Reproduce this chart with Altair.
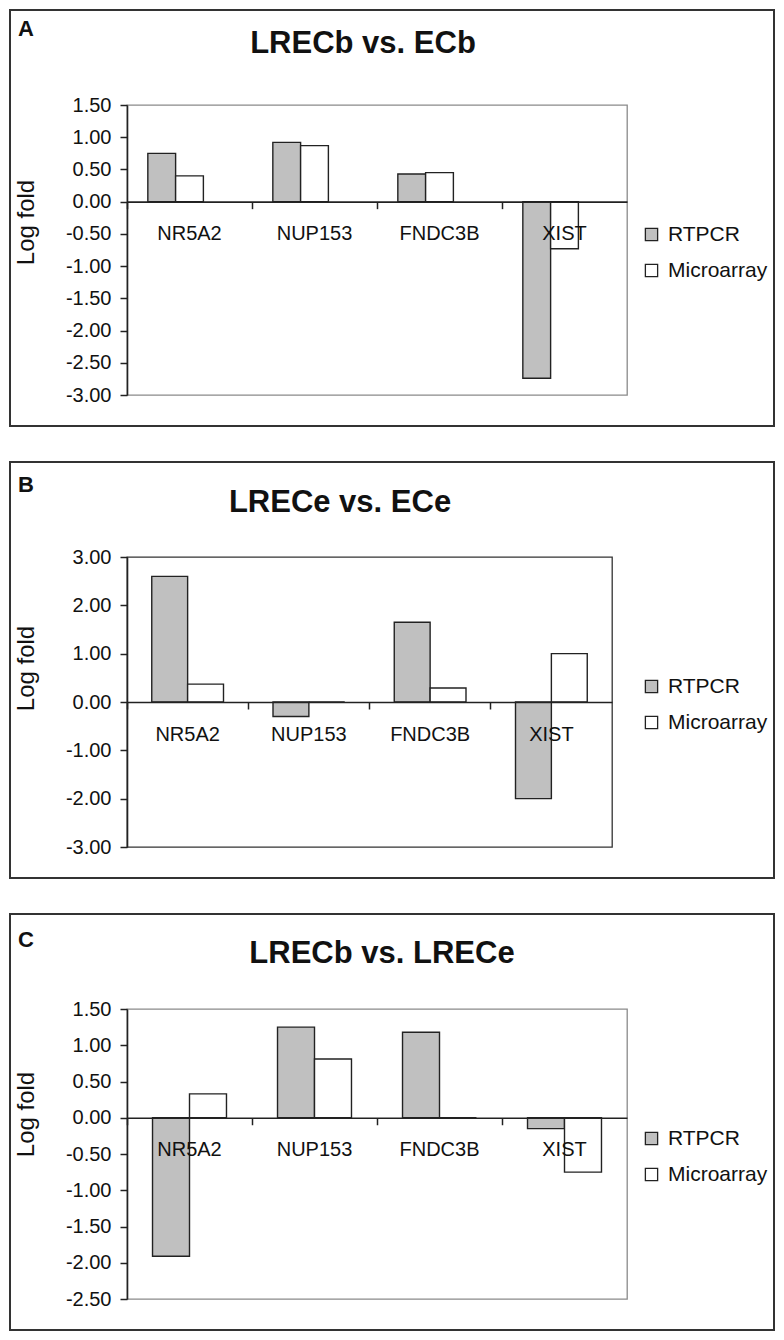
import altair as alt
import pandas as pd

# ---------------- data ----------------
genes = ["NR5A2", "NUP153", "FNDC3B", "XIST"]
series = ["RTPCR", "Microarray"]

a_rtpcr = [0.75, 0.92, 0.43, -2.74]
a_micro = [0.40, 0.87, 0.45, -0.73]
b_rtpcr = [2.60, -0.30, 1.65, -2.00]
b_micro = [0.37, 0.00, 0.29, 1.00]
c_rtpcr = [-1.91, 1.25, 1.18, -0.15]
c_micro = [0.33, 0.81, 0.00, -0.75]

titles = ["LRECb vs. ECb", "LRECe vs. ECe", "LRECb vs. LRECe"]
letters = ["A", "B", "C"]
a_ticks = [1.5, 1.0, 0.5, 0.0, -0.5, -1.0, -1.5, -2.0, -2.5, -3.0]
b_ticks = [3.0, 2.0, 1.0, 0.0, -1.0, -2.0, -3.0]
c_ticks = [1.5, 1.0, 0.5, 0.0, -0.5, -1.0, -1.5, -2.0, -2.5]

FONT = "Liberation Sans"
PLOT_H = 290


def panel(rt, mi, title, letter, yticks, width, offset_domain, pad_outer,
          view_stroke, title_x, title_y, letter_y, ytitle_y):
    rows = []
    for g, r, m in zip(genes, rt, mi):
        rows.append({"gene": g, "series": series[0], "value": r})
        rows.append({"gene": g, "series": series[1], "value": m})
    df = pd.DataFrame(rows)
    ymin, ymax = min(yticks), max(yticks)
    zero_from_top = (ymax - 0) / (ymax - ymin) * PLOT_H
    x_off = -(PLOT_H - zero_from_top)

    bars = alt.Chart(df).mark_bar(stroke="#222", strokeWidth=1.4).encode(
        x=alt.X("gene:N", sort=genes,
                scale=alt.Scale(domain=genes, paddingInner=0, paddingOuter=0),
                axis=alt.Axis(title=None, orient="bottom", offset=x_off,
                              labelAngle=0, bandPosition=0, tickSize=7,
                              labelPadding=15, labelFontSize=20, labelFont=FONT,
                              labelColor="#111", domainColor="#222",
                              domainWidth=1.6, tickColor="#222", tickWidth=1.5,
                              zindex=1)),
        xOffset=alt.XOffset("series:N",
                            scale=alt.Scale(domain=offset_domain, paddingInner=0,
                                            paddingOuter=pad_outer)),
        y=alt.Y("value:Q", stack=None,
                scale=alt.Scale(domain=[ymin, ymax], nice=False),
                axis=alt.Axis(title="Log fold", values=yticks,
                              labelExpr="(datum.value < 0 ? '-' : '') + format(abs(datum.value), '.2f')",
                              labelFontSize=20, labelFont=FONT, labelColor="#111",
                              labelPadding=9, tickSize=7, tickColor="#222",
                              tickWidth=1.5, domainColor="#222", domainWidth=1.6,
                              grid=False, titleFont=FONT, titleFontSize=24,
                              titleFontWeight="normal", titleColor="#111",
                              titleAngle=270, titleAlign="center",
                              titleBaseline="middle", titleX=-101, titleY=ytitle_y)),
        color=alt.Color("series:N",
                        scale=alt.Scale(domain=series, range=["#c0c0c0", "#ffffff"]),
                        legend=alt.Legend(title=None, orient="none", legendX=514,
                                          legendY=119, symbolType="square",
                                          symbolSize=150, symbolStrokeColor="#222",
                                          symbolStrokeWidth=1.3, labelFontSize=21,
                                          labelFont=FONT, labelColor="#111",
                                          rowPadding=14, labelOffset=6, padding=0)),
    )

    one = alt.Data(values=[{"t": title, "l": letter}])
    box = alt.Chart(one).mark_rect(filled=False, stroke="#333", strokeWidth=2).encode(
        x=alt.value(-117), x2=alt.value(647), y=alt.value(-95), y2=alt.value(321))
    ttl = alt.Chart(one).mark_text(font=FONT, fontSize=31, fontWeight="bold",
                                   color="#111", align="center",
                                   baseline="middle").encode(
        x=alt.value(title_x), y=alt.value(title_y), text="t:N")
    let = alt.Chart(one).mark_text(font=FONT, fontSize=22, fontWeight="bold",
                                   color="#111", align="center",
                                   baseline="middle").encode(
        x=alt.value(-101), y=alt.value(letter_y), text="l:N")

    return alt.layer(box, bars, ttl, let).properties(
        width=width, height=PLOT_H,
        view=alt.ViewBackground(stroke=view_stroke, strokeWidth=1.3))


pa = panel(a_rtpcr, a_micro, titles[0], letters[0], a_ticks, 500,
           ["RTPCR", "Microarray", "(none)"], 0.75, "#8a8a8a", 236, -61, -76, 117)
pb = panel(b_rtpcr, b_micro, titles[1], letters[1], b_ticks, 485,
           ["RTPCR", "Microarray"], 0.69, "#333333", 213, -54, -72, 111)
pc = panel(c_rtpcr, c_micro, titles[2], letters[2], c_ticks, 500,
           ["RTPCR", "Microarray"], 0.69, "#8a8a8a", 255, -55, -69, 105)

chart = alt.vconcat(pa, pb, pc, spacing=32).resolve_scale(
    x="independent", y="independent", color="independent", xOffset="independent"
).resolve_legend(color="independent").properties(
    padding=0, background="white"
).configure(font=FONT)

chart.save("out.html", embed_options={"renderer": "svg", "actions": False})
